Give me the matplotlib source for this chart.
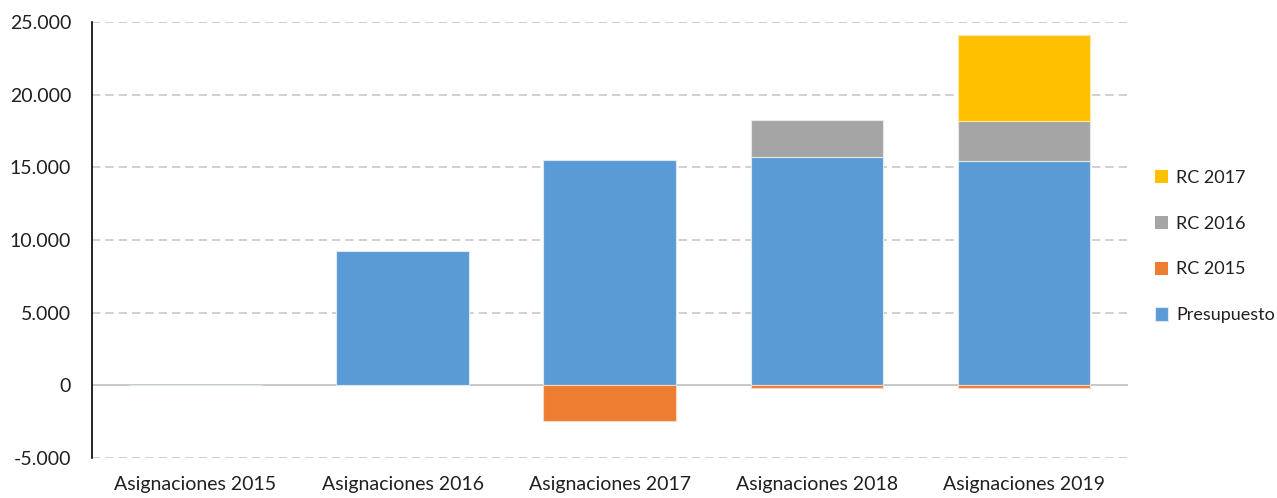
import matplotlib.pyplot as plt
import numpy as np
from matplotlib.ticker import FuncFormatter

categorias = ["Asignaciones 2015", "Asignaciones 2016", "Asignaciones 2017",
              "Asignaciones 2018", "Asignaciones 2019"]
presupuesto = [60, 9230, 15500, 15700, 15430]
rc2015 = [0, 0, -2450, -150, -150]
rc2016 = [0, 0, 0, 2550, 2750]
rc2017 = [0, 0, 0, 0, 5920]

plt.rcParams["font.family"] = ["Lato", "DejaVu Sans"]

fig = plt.figure(figsize=(12.77, 4.98), dpi=100)
ax = fig.add_axes([0.072, 0.080, 0.811, 0.876])

x = np.arange(len(categorias))
w = 0.64
pres = np.array(presupuesto)
r16 = np.array(rc2016)


def lw(vals):
    # no edge on empty segments
    return [0.8 if v != 0 else 0 for v in vals]


b_pres = ax.bar(x, pres, w, color="#5b9bd5", edgecolor="#dde8f4", linewidth=lw(presupuesto), label="Presupuesto", zorder=3)
b_15 = ax.bar(x, rc2015, w, color="#ed7d31", edgecolor="#f8d8c4", linewidth=lw(rc2015), label="RC 2015", zorder=3)
b_16 = ax.bar(x, r16, w, bottom=pres, color="#a5a5a5", edgecolor="#e6e6e6", linewidth=lw(rc2016), label="RC 2016", zorder=3)
b_17 = ax.bar(x, rc2017, w, bottom=pres + r16, color="#ffc000", edgecolor="#ffe9a6", linewidth=lw(rc2017), label="RC 2017", zorder=3)

ax.set_xlim(-0.5, len(categorias) - 0.5)
ax.set_ylim(-5000, 25000)
ax.set_yticks(np.arange(-5000, 25001, 5000))
ax.yaxis.set_major_formatter(FuncFormatter(lambda v, p: f"{int(v):,}".replace(",", ".")))
ax.set_xticks(x)
ax.set_xticklabels(categorias)
ax.tick_params(axis="both", length=0, labelsize=14, colors="#202020")
ax.tick_params(axis="x", pad=12.5)
ax.tick_params(axis="y", pad=15)

for g in range(-5000, 25001, 5000):
    if g != 0:
        ax.axhline(g, color="#c8c8c8", linestyle=(0, (5, 3)), linewidth=1.2, zorder=1)
ax.axhline(0, color="#bfbfbf", linewidth=1.2, zorder=2)

for s in ["top", "right", "bottom"]:
    ax.spines[s].set_visible(False)
ax.spines["left"].set_color("black")
ax.spines["left"].set_linewidth(1.2)

handles = [b_17, b_16, b_15, b_pres]
leg = ax.legend(handles, [h.get_label() for h in handles], loc="center left",
                bbox_to_anchor=(1.026, 0.485), frameon=False, fontsize=13,
                borderaxespad=0, borderpad=0,
                handlelength=0.75, handleheight=0.75, handletextpad=0.45, labelspacing=1.65)
for t in leg.get_texts():
    t.set_color("#202020")

fig.savefig("out.png", dpi=100)
